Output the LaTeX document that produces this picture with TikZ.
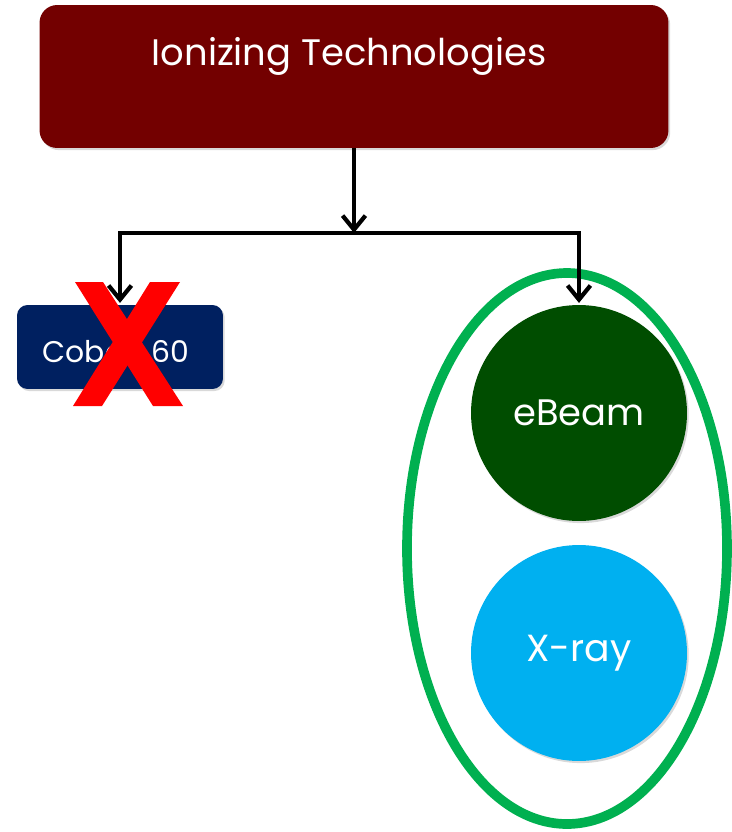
\documentclass[tikz,border=0pt]{standalone}
\usepackage{fontspec}
\setmainfont{Poppins}
\usetikzlibrary{shadows,arrows.meta}
\definecolor{topred}{HTML}{730000}
\definecolor{cobaltblue}{HTML}{002060}
\definecolor{beamgreen}{HTML}{004D00}
\definecolor{xrayblue}{HTML}{00B0F0}
\definecolor{ringgreen}{HTML}{00B050}
\definecolor{crossred}{HTML}{FF0000}

\tikzset{
  softshadow/.style = {drop shadow = {opacity = 0.3, shadow xshift = 1pt, shadow yshift = -1.2pt}},
  techbox/.style = {rectangle, rounded corners = 10pt, inner sep = 0pt, softshadow},
  techdisc/.style = {circle, minimum size = 4.32cm, inner sep = 0pt, text = white, softshadow},
  link/.style = {line width = 2.4pt, -{Straight Barb[length = 8pt, width = 13pt]}}
}

\begin{document}
\begin{tikzpicture} [x = 0.02cm, y = -0.02cm]
\useasboundingbox (0, 0) rectangle (732, 832);
\node[techbox, fill = topred, minimum width = 12.58cm, minimum height = 2.86cm] (ionizing) at (354.0, 76.5) {};
\node[anchor = base, text = white, font = \fontsize{21}{25}\selectfont] (ionizingtext) at (349.0, 65.0) {Ionizing Technologies};
\node[techbox, rounded corners = 6pt, fill = cobaltblue, minimum width = 4.12cm, minimum height = 1.68cm] (cobalt) at (120.0, 347.0) {};
\node[anchor = base, text = white, font = \fontsize{17}{20}\selectfont] (cobalttext) at (116.0, 362.0) {Cobalt 60};
\draw[ringgreen, line width = 5.5pt] (567.0, 548.5) ellipse [x radius = 160, y radius = 275.5];
\node[techdisc, fill = beamgreen, font = \fontsize{21}{25}\selectfont] (ebeam) at (579.0, 413.0) {eBeam};
\node[techdisc, fill = xrayblue, font = \fontsize{21.5}{25}\selectfont] (xray) at (579.0, 653.0) {X-ray};
\coordinate (fork) at (354.0, 233.0);
\draw[link] (ionizing.south) -- (fork);
\draw[link, shorten > = 1pt] (fork) -| (cobalt.north);
\draw[link, shorten > = 1pt] (fork) -| (ebeam.north);
\fill[crossred] (75.0, 282.0) -- (103.0, 282.0) -- (183.0, 406.0) -- (153.0, 406.0) -- cycle;
\fill[crossred] (150.0, 282.0) -- (180.0, 282.0) -- (102.0, 406.0) -- (73.0, 406.0) -- cycle;
\end{tikzpicture}
\end{document}
